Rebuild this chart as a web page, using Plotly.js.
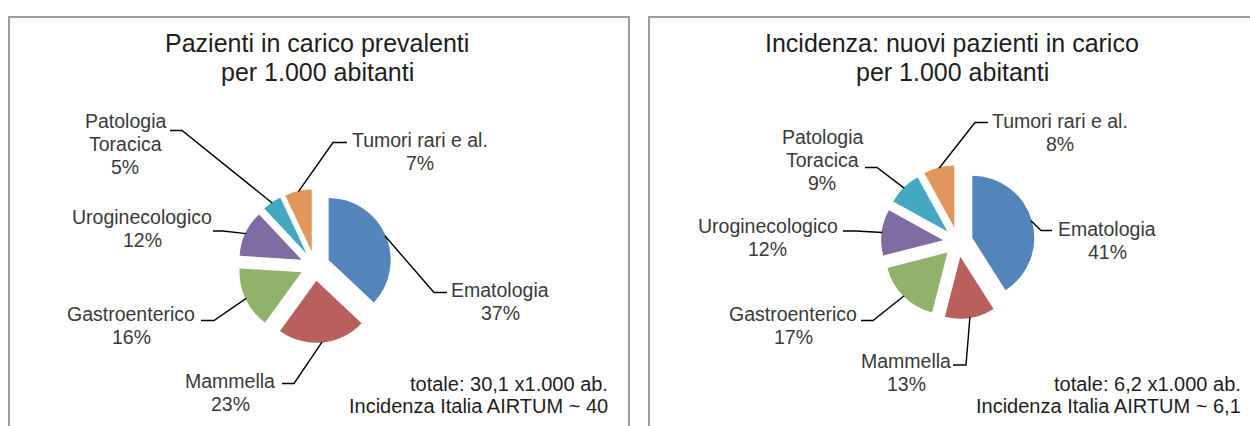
<!DOCTYPE html>
<html>
<head>
<meta charset="utf-8">
<script src="https://cdn.plot.ly/plotly-3.0.1.min.js"></script>
<style>
  html, body { margin: 0; padding: 0; background: #fff; }
  #plotArea { width: 1250px; height: 426px; }
</style>
</head>
<body>
<div id="plotArea"></div>
<script>
// DATA
var categories = ["Ematologia", "Mammella", "Gastroenterico", "Uroginecologico", "Patologia\nToracica", "Tumori rari e al."];
var prevalenti = [37, 23, 16, 12, 5, 7];
var incidenza = [41, 13, 17, 12, 9, 8];
var sliceColors = ["#5485ba", "#b95f5c", "#91b26a", "#7f6ca3", "#44a8c2", "#e2965a"];

var titoloPrevalenti = ["Pazienti in carico prevalenti", "per 1.000 abitanti"];
var titoloIncidenza = ["Incidenza: nuovi pazienti in carico", "per 1.000 abitanti"];
var notePrevalenti = ["totale: 30,1 x1.000 ab.", "Incidenza Italia AIRTUM ~ 40"];
var noteIncidenza = ["totale: 6,2 x1.000 ab.", "Incidenza Italia AIRTUM ~ 6,1"];

// page is 1250x426, everything below is placed in pixels and turned into paper coords
var W = 1250, H = 426;
var px = x => x / W;
var py = y => 1 - y / H;

var labelFont = {family: "Liberation Sans, Arial, sans-serif", size: 19.5, color: "#3a3a3a"};
var titleFont = {family: "Liberation Sans, Arial, sans-serif", size: 25, color: "#1e1e1e"};
var noteFont = {family: "Liberation Sans, Arial, sans-serif", size: 20, color: "#1e1e1e"};

// label placement for each slice: text centre x, first line y, elbow of the leader, end of the short flat part
var panels = [
  {
    values: prevalenti, title: titoloPrevalenti, note: notePrevalenti,
    cx: 315, cy: 266, r: 62, pull: 0.24,
    box: [9, 17, 629, 450], titleX: 317, titleY: 43.5, noteX: 609.5, noteY: 383.5,
    place: [
      {x: 500, y: 290, ex: 434, ey: 292.5, hx: 447},
      {x: 230, y: 381, ex: 294, ey: 383.5, hx: 282},
      {x: 131, y: 314, ex: 214, ey: 320.5, hx: 201},
      {x: 142, y: 217, ex: 223, ey: 231, hx: 213},
      {x: 125, y: 120.5, ex: 182, ey: 130.5, hx: 170},
      {x: 420, y: 140, ex: 333, ey: 142.5, hx: 347}
    ]
  },
  {
    values: incidenza, title: titoloIncidenza, note: noteIncidenza,
    cx: 958, cy: 242, r: 62, pull: 0.24,
    box: [649, 17, 1262, 450], titleX: 952, titleY: 43.5, noteX: 1243, noteY: 383.5,
    place: [
      {x: 1107, y: 228.5, ex: 1041, ey: 230.5, hx: 1052},
      {x: 906, y: 360.5, ex: 966, ey: 365, hx: 953},
      {x: 793, y: 314, ex: 873, ey: 320.5, hx: 861},
      {x: 768, y: 226, ex: 856, ey: 231, hx: 843},
      {x: 822, y: 137, ex: 877, ey: 167.5, hx: 865},
      {x: 1060, y: 121.5, ex: 975, ey: 122.5, hx: 988}
    ]
  }
];

var traces = [];
var shapes = [];
var annotations = [];
var lineGap = 23;

function addLine(text, x, y, font, anchor) {
  annotations.push({
    text: text, x: px(x), y: py(y), xref: "paper", yref: "paper",
    xanchor: anchor, yanchor: "middle", showarrow: false, font: font
  });
}

panels.forEach(function(p) {
  var half = p.r * (1 + p.pull);
  traces.push({
    type: "pie",
    labels: categories.map(c => c.replace("\n", " ")),
    values: p.values,
    sort: false,
    direction: "clockwise",
    rotation: 0,
    pull: p.pull,
    textinfo: "none",
    hoverinfo: "label+percent",
    marker: {colors: sliceColors, line: {width: 0}},
    domain: {x: [px(p.cx - half), px(p.cx + half)], y: [py(p.cy + half), py(p.cy - half)]},
    showlegend: false
  });

  // frame of the panel
  shapes.push({
    type: "rect", xref: "paper", yref: "paper",
    x0: px(p.box[0]), x1: px(p.box[2]), y0: py(p.box[3]), y1: py(p.box[1]),
    line: {color: "#9e9e9e", width: 2}
  });

  p.title.forEach((t, i) => addLine(t, p.titleX, p.titleY + i * 28.3, titleFont, "center"));
  p.note.forEach((t, i) => addLine(t, p.noteX, p.noteY + i * 22.5, noteFont, "right"));

  var total = p.values.reduce((a, b) => a + b, 0);
  var cum = 0;
  p.values.forEach(function(v, i) {
    var mid = (cum + v / 2) / total * 2 * Math.PI;
    cum += v;
    // leader starts on the rim of the pulled slice
    var dist = p.r * (1 + p.pull) * 0.99;
    var sx = p.cx + dist * Math.sin(mid);
    var sy = p.cy - dist * Math.cos(mid);
    var pl = p.place[i];
    shapes.push({
      type: "path", xref: "paper", yref: "paper",
      path: "M " + px(sx) + "," + py(sy) + " L " + px(pl.ex) + "," + py(pl.ey) + " L " + px(pl.hx) + "," + py(pl.ey),
      line: {color: "#000000", width: 1.4}
    });
    var lines = categories[i].split("\n");
    lines.push(Math.round(v / total * 100) + "%");
    lines.forEach((t, k) => addLine(t, pl.x, pl.y + k * lineGap, labelFont, "center"));
  });
});

var layout = {
  width: W, height: H,
  margin: {l: 0, r: 0, t: 0, b: 0},
  paper_bgcolor: "#ffffff",
  showlegend: false,
  shapes: shapes,
  annotations: annotations
};

Plotly.newPlot("plotArea", traces, layout, {displayModeBar: false, staticPlot: true});
</script>
</body>
</html>
